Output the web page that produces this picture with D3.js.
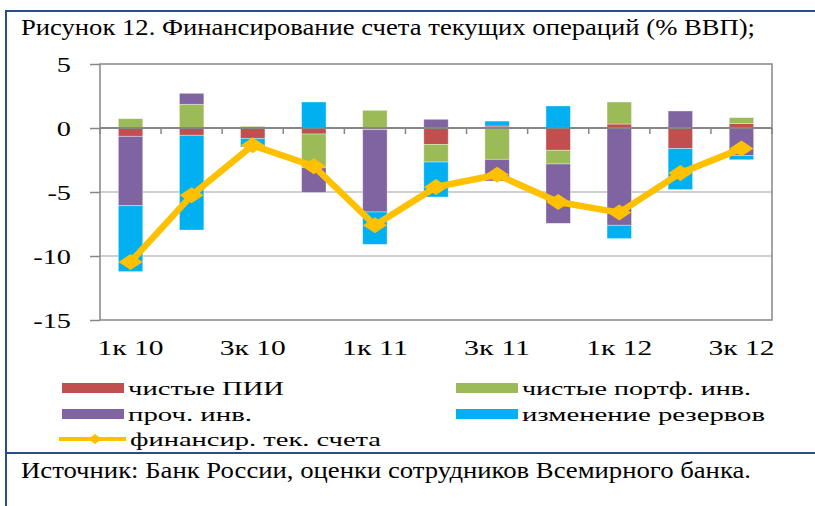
<!DOCTYPE html>
<html><head><meta charset="utf-8">
<script src="https://cdn.jsdelivr.net/npm/d3@7"></script>
<style>body{margin:0;background:#fff}svg{display:block}</style>
</head><body>
<svg id="c" width="815" height="506"></svg>
<script>
const categories = ["1к 10","2к 10","3к 10","4к 10","1к 11","2к 11","3к 11","4к 11","1к 12","2к 12","3к 12"];
const tickLabels = ["1к 10","3к 10","1к 11","3к 11","1к 12","3к 12"];
const yTicks = [5, 0, -5, -10, -15];
const fdi       = [-0.65,-0.57,-0.81,-0.47,-0.13,-1.28, 0.15,-1.74, 0.31,-1.61, 0.36];
const portfolio = [ 0.73, 1.85, 0.13,-2.63, 1.38,-1.38,-2.45,-1.07, 1.72, 0.00, 0.45];
const other     = [-5.42, 0.86, 0.00,-1.93,-6.43, 0.68,-1.69,-4.64,-7.60, 1.33,-2.14];
const reserves  = [-5.15,-7.40,-0.67, 2.03,-2.53,-2.73, 0.39, 1.72,-1.04,-3.20,-0.34];
const financing = [-10.47,-5.26,-1.35,-2.99,-7.60,-4.61,-3.65,-5.78,-6.61,-3.52,-1.61];
const seriesNames = ["чистые ПИИ","чистые портф. инв.","проч. инв.","изменение резервов"];
const lineName = "финансир. тек. счета";
const title = "Рисунок 12. Финансирование счета текущих операций (% ВВП);";
const source = "Источник: Банк России, оценки сотрудников Всемирного банка.";

const colors = ["#C0504D","#9BBB59","#8064A2","#00B0F0"];
const lineColor = "#FFC000";
const frameColor = "#254F8C";
const serif = "'Liberation Serif','Times New Roman',serif";

const svg = d3.select("#c");
const L = 100, R = 772, T = 64, B = 320;
const x = d3.scaleBand().domain(categories).range([L, R]).paddingInner(0.6).paddingOuter(0.3);
const y = d3.scaleLinear().domain([-15, 5]).range([B, T]);
const bw = x.bandwidth(), step = x.step();

// outer frame
svg.append("line").attr("x1",6).attr("x2",6).attr("y1",10).attr("y2",506).attr("stroke",frameColor).attr("stroke-width",2);
svg.append("line").attr("x1",5).attr("x2",815).attr("y1",11).attr("y2",11).attr("stroke",frameColor).attr("stroke-width",2);
svg.append("line").attr("x1",5).attr("x2",815).attr("y1",453).attr("y2",453).attr("stroke",frameColor).attr("stroke-width",2);

svg.append("text").attr("x",21).attr("y",35).attr("font-family",serif).attr("font-size",24)
  .attr("textLength",734).attr("lengthAdjust","spacingAndGlyphs").attr("fill","#000").text(title);
svg.append("text").attr("x",21).attr("y",478).attr("font-family",serif).attr("font-size",24)
  .attr("textLength",730).attr("lengthAdjust","spacingAndGlyphs").attr("fill","#000").text(source);

// gridlines
svg.append("g").selectAll("line").data([-5,-10]).join("line")
  .attr("x1",L).attr("x2",R).attr("y1",d=>y(d)).attr("y2",d=>y(d))
  .attr("stroke","#BFBFBF").attr("stroke-width",1.5);

// y axis
const yAxis = svg.append("g").attr("transform",`translate(${L},0)`)
  .call(d3.axisLeft(y).tickValues(yTicks).tickSize(10).tickFormat(d=>String(d)));
yAxis.select(".domain").remove();
yAxis.selectAll(".tick line").attr("stroke","#868686").attr("stroke-width",1.5);
yAxis.selectAll(".tick text").attr("x",0).attr("dy","0.35em")
  .attr("transform","translate(-29,0) scale(1.35,1)")
  .attr("font-family",serif).attr("font-size",21).attr("fill","#000");

// plot frame
svg.append("rect").attr("x",L).attr("y",T).attr("width",R-L).attr("height",B-T)
  .attr("fill","none").attr("stroke","#868686").attr("stroke-width",1.5);

// stacked bars
const rows = categories.map((c,i)=>({cat:c, s0:fdi[i], s1:portfolio[i], s2:other[i], s3:reserves[i]}));
const stack = d3.stack().keys(["s0","s1","s2","s3"]).offset(d3.stackOffsetDiverging);
const stacked = stack(rows);
svg.append("g").selectAll("g").data(stacked).join("g").attr("fill",(d,i)=>colors[i])
  .selectAll("rect").data(d=>d).join("rect")
  .attr("x",d=>x(d.data.cat)).attr("width",bw)
  .attr("y",d=>y(Math.max(d[0],d[1]))).attr("height",d=>Math.abs(y(d[0])-y(d[1])))
  .attr("stroke","#ffffff").attr("stroke-opacity",0.45).attr("stroke-width",0.8);

// zero axis with ticks at band boundaries
const bounds = categories.map(c=>x(c)-(step-bw)/2).concat([R]);
svg.append("line").attr("x1",L).attr("x2",R).attr("y1",y(0)).attr("y2",y(0)).attr("stroke","#868686").attr("stroke-width",2);
svg.append("g").selectAll("line").data(bounds).join("line")
  .attr("x1",d=>d).attr("x2",d=>d).attr("y1",y(0)).attr("y2",y(0)+6)
  .attr("stroke","#868686").attr("stroke-width",1.5);

// x labels
svg.append("g").selectAll("text").data(tickLabels).join("text")
  .attr("x",d=>x(d)+bw/2).attr("y",355).attr("text-anchor","middle")
  .attr("font-family",serif).attr("font-size",22).attr("textLength",66).attr("lengthAdjust","spacingAndGlyphs")
  .attr("fill","#000").text(d=>d);

// line
const pts = categories.map((c,i)=>[x(c)+bw/2, y(financing[i])]);
svg.append("path").attr("d",d3.line()(pts)).attr("fill","none").attr("stroke",lineColor)
  .attr("stroke-width",6.5).attr("stroke-linejoin","round");
const diamond = (cx,cy,hw,hh)=>`M${cx-hw},${cy}L${cx},${cy-hh}L${cx+hw},${cy}L${cx},${cy+hh}Z`;
svg.append("g").selectAll("path").data(pts).join("path")
  .attr("d",d=>diamond(d[0],d[1],12,8)).attr("fill",lineColor);

// legend
const leg = [
  {name:seriesNames[0], c:colors[0], sx:62, ty:395, tw:156},
  {name:seriesNames[1], c:colors[1], sx:456, ty:395, tw:229},
  {name:seriesNames[2], c:colors[2], sx:62, ty:421, tw:124},
  {name:seriesNames[3], c:colors[3], sx:456, ty:421, tw:243}
];
const lg = svg.append("g");
leg.forEach(l=>{
  lg.append("rect").attr("x",l.sx).attr("y",l.ty-12).attr("width",62).attr("height",10).attr("fill",l.c);
  lg.append("text").attr("x",l.sx+66).attr("y",l.ty).attr("font-family",serif).attr("font-size",19)
    .attr("textLength",l.tw).attr("lengthAdjust","spacingAndGlyphs").attr("fill","#000").text(l.name);
});
lg.append("line").attr("x1",59).attr("x2",126).attr("y1",439).attr("y2",439).attr("stroke",lineColor).attr("stroke-width",4);
lg.append("path").attr("d",diamond(95,439,7,5)).attr("fill",lineColor);
lg.append("text").attr("x",130).attr("y",446).attr("font-family",serif).attr("font-size",19)
  .attr("textLength",251).attr("lengthAdjust","spacingAndGlyphs").attr("fill","#000").text(lineName);
</script>
</body></html>
